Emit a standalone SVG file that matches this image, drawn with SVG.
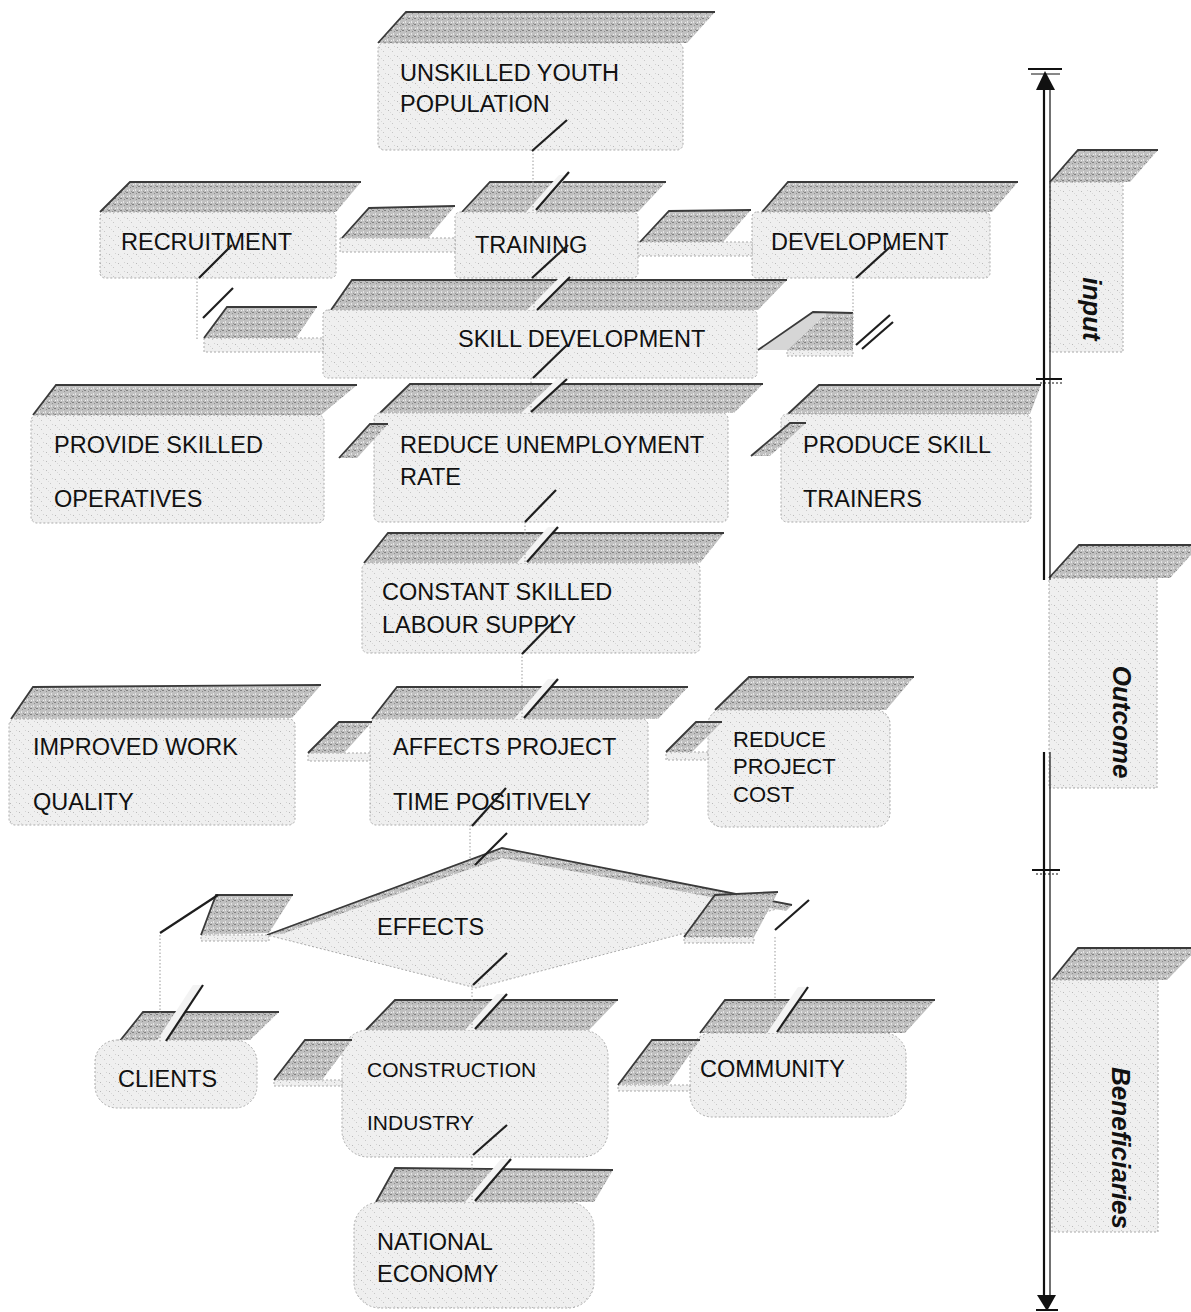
<svg xmlns="http://www.w3.org/2000/svg" width="1191" height="1312" viewBox="0 0 1191 1312">
<defs>
  <pattern id="ptFront" width="9" height="9" patternUnits="userSpaceOnUse">
    <rect width="9" height="9" fill="#efefef"/>
    <rect x="1" y="2" width="1" height="1" fill="#b9b9b9"/>
    <rect x="5" y="6" width="1" height="1" fill="#c6c6c6"/>
    <rect x="7" y="1" width="1" height="1" fill="#d2d2d2"/>
    <rect x="3" y="4" width="1" height="1" fill="#dadada"/>
  </pattern>
  <pattern id="ptTop" width="6" height="6" patternUnits="userSpaceOnUse">
    <rect width="6" height="6" fill="#c0c0c0"/>
    <rect x="0" y="0" width="2" height="1" fill="#808080"/>
    <rect x="3" y="3" width="1" height="2" fill="#e4e4e4"/>
    <rect x="4" y="1" width="1" height="1" fill="#8e8e8e"/>
    <rect x="1" y="4" width="1" height="1" fill="#eeeeee"/>
    <rect x="5" y="5" width="1" height="1" fill="#969696"/>
  </pattern>
  <style>
    .front { fill: url(#ptFront); stroke: #a9a9a9; stroke-width: 1; stroke-dasharray: 2 2; }
    .top { fill: url(#ptTop); stroke: none; }
    .edge { fill: none; stroke: #3a3a3a; stroke-width: 1.8; }
    .strip { fill: url(#ptFront); stroke: #a9a9a9; stroke-width: 1; stroke-dasharray: 2 2; }
    .gap { fill: #f3f3f3; stroke: none; }
    .lbl { font-family: "Liberation Sans", Arial, sans-serif; font-size: 23.5px; fill: #111; }
    .lbl-s { font-family: "Liberation Sans", Arial, sans-serif; font-size: 21px; fill: #111; }
    .lbl-m { font-family: "Liberation Sans", Arial, sans-serif; font-size: 22px; fill: #111; }
    .side { font-family: "Liberation Sans", Arial, sans-serif; font-size: 26px; font-weight: bold; font-style: italic; fill: #111; }
    .slash { stroke: #1e1e1e; stroke-width: 2.2; fill: none; }
    .vline { stroke: #9a9a9a; stroke-width: 1; stroke-dasharray: 1.5 2; fill: none; }
    .axis { stroke: #111; fill: none; }
  </style>
</defs>
<rect width="1191" height="1312" fill="#ffffff"/>

<!-- Nodes -->
<g id="n-unskilled">
  <polygon class="top" points="378,43 406,12 715,12 687,43"/>
  <path class="edge" d="M378,43 L406,12 L715,12"/>
  <rect class="front" x="378" y="43" width="305" height="107" rx="6"/>
  <text class="lbl" x="400" y="81">UNSKILLED YOUTH</text>
  <text class="lbl" x="400" y="112">POPULATION</text>
</g>

<g id="n-recruitment">
  <polygon class="top" points="100,212 130,182 361,182 336,212"/>
  <path class="edge" d="M100,212 L130,182 L361,182"/>
  <rect class="front" x="100" y="212" width="236" height="66" rx="5"/>
  <text class="lbl" x="121" y="250">RECRUITMENT</text>
</g>

<g id="n-training">
  <polygon class="top" points="462,212 490,182 666,182 638,212"/>
  <path class="edge" d="M462,212 L490,182 L666,182"/>
  <rect class="front" x="455" y="212" width="183" height="66" rx="5"/>
  <text class="lbl" x="475" y="253">TRAINING</text>
</g>

<g id="n-development">
  <polygon class="top" points="762,212 788,182 1018,182 992,212"/>
  <path class="edge" d="M762,212 L788,182 L1018,182"/>
  <rect class="front" x="752" y="212" width="238" height="66" rx="5"/>
  <text class="lbl" x="771" y="250">DEVELOPMENT</text>
</g>

<g id="n-skill-development">
  <polygon class="top" points="331,310 352,280 787,280 758,310"/>
  <path class="edge" d="M331,310 L352,280 L787,280"/>
  <rect class="front" x="323" y="310" width="434" height="68" rx="5"/>
  <text class="lbl" x="458" y="347">SKILL DEVELOPMENT</text>
</g>

<g id="n-provide">
  <polygon class="top" points="33,415 56,385 357,385 321,415"/>
  <path class="edge" d="M33,415 L56,385 L357,385"/>
  <rect class="front" x="31" y="415" width="293" height="108" rx="6"/>
  <text class="lbl" x="54" y="453">PROVIDE SKILLED</text>
  <text class="lbl" x="54" y="507">OPERATIVES</text>
</g>

<g id="n-reduce-unemployment">
  <polygon class="top" points="380,413 410,384 763,384 734,413"/>
  <path class="edge" d="M380,413 L410,384 L763,384"/>
  <rect class="front" x="374" y="413" width="354" height="109" rx="6"/>
  <text class="lbl" x="400" y="453">REDUCE UNEMPLOYMENT</text>
  <text class="lbl" x="400" y="485">RATE</text>
</g>

<g id="n-produce">
  <polygon class="top" points="788,414 819,385 1041,385 1030,414"/>
  <path class="edge" d="M788,414 L819,385 L1041,385"/>
  <rect class="front" x="781" y="414" width="250" height="108" rx="6"/>
  <text class="lbl" x="803" y="453">PRODUCE SKILL</text>
  <text class="lbl" x="803" y="507">TRAINERS</text>
</g>

<g id="n-constant">
  <polygon class="top" points="364,563 388,533 724,533 700,563"/>
  <path class="edge" d="M364,563 L388,533 L724,533"/>
  <rect class="front" x="362" y="563" width="338" height="90" rx="6"/>
  <text class="lbl" x="382" y="600">CONSTANT SKILLED</text>
  <text class="lbl" x="382" y="633">LABOUR SUPPLY</text>
</g>

<g id="n-improved">
  <polygon class="top" points="11,719 33,687 321,685 292,718"/>
  <path class="edge" d="M11,719 L33,687 L321,685"/>
  <rect class="front" x="9" y="719" width="286" height="106" rx="6"/>
  <text class="lbl" x="33" y="755">IMPROVED WORK</text>
  <text class="lbl" x="33" y="810">QUALITY</text>
</g>

<g id="n-affects">
  <polygon class="top" points="372,719 397,687 688,687 658,719"/>
  <path class="edge" d="M372,719 L397,687 L688,687"/>
  <rect class="front" x="370" y="719" width="278" height="106" rx="6"/>
  <text class="lbl" x="393" y="755">AFFECTS PROJECT</text>
  <text class="lbl" x="393" y="810">TIME POSITIVELY</text>
</g>

<g id="n-reduce-cost">
  <polygon class="top" points="715,710 749,677 914,677 886,710"/>
  <path class="edge" d="M715,710 L749,677 L914,677"/>
  <rect class="front" x="708" y="710" width="182" height="117" rx="14"/>
  <text class="lbl-m" x="733" y="747">REDUCE</text>
  <text class="lbl-m" x="733" y="774">PROJECT</text>
  <text class="lbl-m" x="733" y="802">COST</text>
</g>

<g id="n-effects">
  <polygon class="front" points="267,935 502,848 792,905 476,988"/>
  <polygon class="top" points="267,935 502,848 792,905 786,911 502,858 282,934"/>
  <path class="edge" d="M267,935 L502,848 L792,905"/>
  <text class="lbl" x="377" y="935">EFFECTS</text>
</g>

<g id="n-clients">
  <polygon class="top" points="119,1042 143,1012 279,1012 250,1040"/>
  <path class="edge" d="M119,1042 L143,1012 L279,1012"/>
  <rect class="front" x="95" y="1040" width="162" height="68" rx="22"/>
  <text class="lbl" x="118" y="1087">CLIENTS</text>
</g>

<g id="n-construction">
  <polygon class="top" points="366,1030 395,1000 618,1000 589,1030"/>
  <path class="edge" d="M366,1030 L395,1000 L618,1000"/>
  <rect class="front" x="342" y="1030" width="266" height="127" rx="26"/>
  <text class="lbl-s" x="367" y="1077">CONSTRUCTION</text>
  <text class="lbl-s" x="367" y="1130">INDUSTRY</text>
</g>

<g id="n-community">
  <polygon class="top" points="700,1033 725,1000 935,1000 905,1033"/>
  <path class="edge" d="M700,1033 L725,1000 L935,1000"/>
  <rect class="front" x="690" y="1033" width="216" height="84" rx="22"/>
  <text class="lbl" x="700" y="1077">COMMUNITY</text>
</g>

<g id="n-national">
  <polygon class="top" points="376,1202 395,1168 613,1170 594,1202"/>
  <path class="edge" d="M376,1202 L395,1168 L613,1170"/>
  <rect class="front" x="354" y="1202" width="240" height="106" rx="26"/>
  <text class="lbl" x="377" y="1250">NATIONAL</text>
  <text class="lbl" x="377" y="1282">ECONOMY</text>
</g>

<!-- Stage labels -->
<g id="n-input">
  <polygon class="top" points="1050,182 1078,150 1158,150 1130,182"/>
  <path class="edge" d="M1050,182 L1078,150 L1158,150"/>
  <rect class="front" x="1050" y="182" width="73" height="170"/>
  <text class="side" text-anchor="middle" transform="translate(1083,309) rotate(90)">input</text>
</g>

<g id="n-outcome">
  <polygon class="top" points="1049,578 1079,545 1200,545 1170,578"/>
  <path class="edge" d="M1049,578 L1079,545 L1200,545"/>
  <rect class="front" x="1049" y="578" width="108" height="210"/>
  <text class="side" text-anchor="middle" transform="translate(1113,722) rotate(90)">Outcome</text>
</g>

<g id="n-beneficiaries">
  <polygon class="top" points="1052,980 1078,948 1198,948 1167,980"/>
  <path class="edge" d="M1052,980 L1078,948 L1198,948"/>
  <rect class="front" x="1052" y="980" width="106" height="252"/>
  <text class="side" text-anchor="middle" transform="translate(1112,1148) rotate(90)">Beneficiaries</text>
</g>

<!-- Axis -->
<g id="axis">
  <line class="axis" x1="1044" y1="80" x2="1044" y2="580" stroke-width="2.2"/>
  <line class="axis" x1="1050" y1="86" x2="1050" y2="580" stroke-width="1.2"/>
  <line class="axis" x1="1044" y1="752" x2="1044" y2="1300" stroke-width="2.2"/>
  <line class="axis" x1="1050" y1="752" x2="1050" y2="1300" stroke-width="1.2"/>
  <polygon points="1045,71 1036,90 1055,90" fill="#111"/>
  <polygon points="1047,1311 1037,1295 1056,1295" fill="#111"/>
  <line class="axis" x1="1028" y1="69" x2="1062" y2="69" stroke-width="2"/>
  <line class="axis" x1="1031" y1="74" x2="1060" y2="74" stroke-width="1"/>
  <line class="axis" x1="1036" y1="379" x2="1062" y2="379" stroke-width="2"/>
  <line class="axis" x1="1040" y1="383" x2="1064" y2="383" stroke-width="1" stroke-dasharray="2 2"/>
  <line class="axis" x1="1032" y1="870" x2="1060" y2="870" stroke-width="2"/>
  <line class="axis" x1="1036" y1="874" x2="1060" y2="874" stroke-width="1" stroke-dasharray="2 2"/>
  <line class="axis" x1="1036" y1="1310" x2="1058" y2="1310" stroke-width="2"/>
</g>

<!-- Connectors -->
<g id="connectors">
  <!-- horizontal bar stubs -->
  <rect class="strip" x="340" y="238" width="115" height="14"/>
  <polygon class="top" points="342,238 369,208 455,206 428,238"/>
  <path class="edge" d="M342,238 L369,208 L455,206"/>

  <rect class="strip" x="638" y="242" width="114" height="14"/>
  <polygon class="top" points="640,242 669,211 751,210 723,242"/>
  <path class="edge" d="M640,242 L669,211 L751,210"/>

  <rect class="strip" x="204" y="338" width="119" height="14"/>
  <polygon class="top" points="204,338 227,307 317,307 296,338"/>
  <path class="edge" d="M204,338 L227,307 L317,307"/>

  <rect class="strip" x="787" y="350" width="66" height="6"/>
  <polygon points="758,350 813,312 827,313 787,350" fill="#d6d6d6"/>
  <polygon class="top" points="787,350 827,313 853,313 853,350"/>
  <path class="edge" d="M758,350 L813,312 L853,313"/>

  <polygon class="top" points="339,458 370,424 388,424 357,458"/>
  <path class="edge" d="M339,458 L370,424 L388,424"/>

  <polygon class="top" points="751,456 790,423 806,423 770,456"/>
  <path class="edge" d="M751,456 L790,423 L806,423"/>

  <rect class="strip" x="308" y="753" width="62" height="8"/>
  <polygon class="top" points="308,753 339,722 372,722 344,753"/>
  <path class="edge" d="M308,753 L339,722 L372,722"/>

  <rect class="strip" x="666" y="752" width="42" height="8"/>
  <polygon class="top" points="666,752 696,722 722,722 692,752"/>
  <path class="edge" d="M666,752 L696,722 L722,722"/>

  <rect class="strip" x="201" y="935" width="68" height="6"/>
  <polygon class="top" points="201,935 216,895 293,895 269,933"/>
  <path class="edge" d="M201,935 L216,895 L293,895"/>

  <rect class="strip" x="684" y="937" width="70" height="6"/>
  <polygon class="top" points="684,937 715,895 778,892 754,937"/>
  <path class="edge" d="M684,937 L715,895 L778,892"/>

  <rect class="strip" x="274" y="1080" width="68" height="6"/>
  <polygon class="top" points="274,1080 305,1040 352,1040 322,1080"/>
  <path class="edge" d="M274,1080 L305,1040 L352,1040"/>

  <rect class="strip" x="618" y="1085" width="72" height="6"/>
  <polygon class="top" points="618,1085 652,1040 700,1040 668,1085"/>
  <path class="edge" d="M618,1085 L652,1040 L700,1040"/>

  <!-- gaps where connectors pass through the top faces -->
  <polygon class="gap" points="526,212 559,175 569,175 536,212"/>
  <polygon class="gap" points="527,310 560,277 570,277 537,310"/>
  <polygon class="gap" points="521,413 557,379 567,379 531,413"/>
  <polygon class="gap" points="517,563 548,527 558,527 527,563"/>
  <polygon class="gap" points="514,719 548,679 558,679 524,719"/>
  <polygon class="gap" points="465,1030 497,994 507,994 475,1030"/>
  <polygon class="gap" points="465,1202 501,1159 511,1159 475,1202"/>
  <polygon class="gap" points="156,1042 193,985 203,985 166,1042"/>
  <polygon class="gap" points="767,1033 798,987 808,987 777,1033"/>

  <!-- vertical connector marks -->
  <line class="vline" x1="533" y1="150" x2="533" y2="212"/>
  <line class="slash" x1="532" y1="151" x2="567" y2="120"/>
  <line class="slash" x1="536" y1="210" x2="569" y2="172"/>

  <line class="vline" x1="197" y1="278" x2="197" y2="340"/>
  <line class="slash" x1="199" y1="278" x2="232" y2="245"/>
  <line class="slash" x1="203" y1="318" x2="233" y2="288"/>

  <line class="vline" x1="534" y1="278" x2="534" y2="310"/>
  <line class="slash" x1="532" y1="278" x2="568" y2="245"/>
  <line class="slash" x1="537" y1="310" x2="570" y2="277"/>

  <line class="vline" x1="853" y1="278" x2="853" y2="345"/>
  <line class="slash" x1="856" y1="278" x2="890" y2="247"/>
  <line class="slash" x1="856" y1="345" x2="890" y2="315"/>
  <line class="slash" x1="862" y1="349" x2="893" y2="322" stroke-width="1.2"/>

  <line class="vline" x1="531" y1="378" x2="531" y2="413"/>
  <line class="slash" x1="533" y1="378" x2="567" y2="345"/>
  <line class="slash" x1="531" y1="412" x2="567" y2="379"/>

  <line class="vline" x1="525" y1="522" x2="525" y2="563"/>
  <line class="slash" x1="525" y1="522" x2="556" y2="490"/>
  <line class="slash" x1="527" y1="562" x2="558" y2="527"/>

  <line class="vline" x1="522" y1="653" x2="522" y2="719"/>
  <line class="slash" x1="522" y1="654" x2="560" y2="615"/>
  <line class="slash" x1="524" y1="718" x2="558" y2="679"/>

  <line class="vline" x1="470" y1="825" x2="470" y2="862"/>
  <line class="slash" x1="472" y1="826" x2="506" y2="788"/>
  <line class="slash" x1="475" y1="865" x2="507" y2="833"/>

  <line class="vline" x1="160" y1="935" x2="160" y2="1042"/>
  <line class="slash" x1="160" y1="933" x2="218" y2="895"/>
  <line class="slash" x1="166" y1="1041" x2="203" y2="985"/>

  <line class="vline" x1="775" y1="937" x2="775" y2="1010"/>
  <line class="slash" x1="775" y1="930" x2="809" y2="900"/>
  <line class="slash" x1="777" y1="1032" x2="808" y2="987"/>

  <line class="vline" x1="472" y1="985" x2="472" y2="1028"/>
  <line class="slash" x1="473" y1="985" x2="507" y2="953"/>
  <line class="slash" x1="475" y1="1029" x2="507" y2="994"/>

  <line class="vline" x1="472" y1="1157" x2="472" y2="1200"/>
  <line class="slash" x1="473" y1="1155" x2="507" y2="1125"/>
  <line class="slash" x1="475" y1="1201" x2="511" y2="1159"/>
</g>
</svg>
